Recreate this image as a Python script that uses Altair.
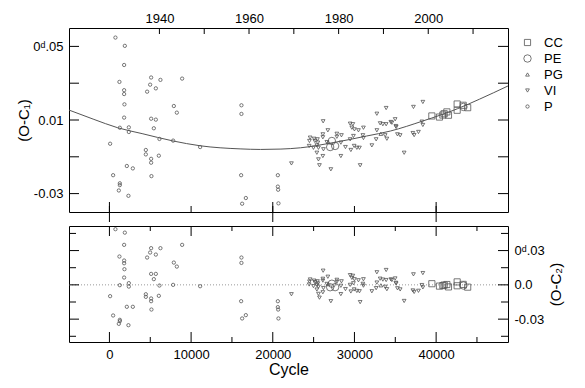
import altair as alt
import pandas as pd

FONT = "Liberation Sans"
GRAY = "#555555"

# ---------------- data ----------------
types = ["CC", "PE", "PG", "VI", "P"]

p_cycle = [735, 1886, 1800, 1225, 5106, 6245, 4984, 5682, 4616, 1800, 1800, 1837, 1800, 5106, 5682,
           1274, 2376, 2376, 5437, 6123, 86, 4457, 4457, 5106, 5106, 6049, 2131, 2865, 453, 5143,
           1274, 1274, 1151, 2327, 8902, 7886, 8253, 7800, 11106, 16163, 16163, 16127, 16702, 16249,
           20621, 20621, 20657, 20694]
p_oc1 = [0.0548, 0.0503, 0.0399, 0.0307, 0.0331, 0.0318, 0.0292, 0.0272, 0.0254, 0.0262, 0.0241,
         0.0185, 0.0113, 0.0107, 0.0102, 0.0058, 0.0060, 0.0035, 0.0055, -0.0003, -0.0029, -0.0063,
         -0.0087, -0.0111, -0.0132, -0.0094, -0.0150, -0.0163, -0.0200, -0.0205, -0.0244, -0.0254,
         -0.0283, -0.0312, 0.0325, 0.0176, 0.0140, -0.0012, -0.0047, 0.0180, 0.0133, -0.0200,
         -0.0324, -0.0355, -0.0200, -0.0262, -0.0279, -0.0353]
p_oc2 = [0.0487, 0.0457, 0.0350, 0.0248, 0.0321, 0.0321, 0.0283, 0.0265, 0.0239, 0.0213, 0.0189,
         0.0137, 0.0064, 0.0096, 0.0096, -0.0003, 0.0015, -0.0015, 0.0050, -0.0006, -0.0099, -0.0082,
         -0.0105, -0.0119, -0.0143, -0.0096, -0.0192, -0.0192, -0.0268, -0.0216, -0.0306, -0.0318,
         -0.0341, -0.0353, 0.0350, 0.0195, 0.0160, 0.0000, -0.0012, 0.0239, 0.0192, -0.0143,
         -0.0265, -0.0294, -0.0143, -0.0195, -0.0216, -0.0294]

vi_cycle = [33882, 32743, 26168, 29474, 29804, 29682, 30000, 30490, 31102, 33147, 33478, 33882, 34457,
            35070, 26743, 26131, 26131, 27845, 27845, 28408, 32743, 29878, 31029, 31102, 32657, 33760,
            33968, 35266, 29474, 24576, 25066, 25470, 24490, 25151, 25519, 26621, 28335, 28898, 29964,
            30294, 30613, 29559, 32131, 24980, 25592, 26204, 25396, 26131, 25592, 28335, 25715, 27110,
            30698, 25396, 37225, 38376, 34580, 34984, 35107, 38254, 38376, 35597, 37151, 37311, 37837,
            36086, 22286, 24454]
vi_oc1 = [0.0165, 0.0134, 0.0093, 0.0080, 0.0077, 0.0058, 0.0049, 0.0044, 0.0058, 0.0082, 0.0077,
          0.0077, 0.0089, 0.0067, 0.0044, 0.0022, 0.0006, 0.0025, 0.0009, 0.0017, 0.0044, 0.0013,
          0.0017, 0.0002, -0.0005, 0.0017, -0.0002, 0.0022, -0.0005, 0.0004, -0.0002, -0.0005,
          -0.0014, -0.0014, -0.0023, -0.0020, -0.0023, -0.0047, -0.0041, -0.0051, -0.0051, -0.0063,
          -0.0038, -0.0051, -0.0051, -0.0059, -0.0078, -0.0096, -0.0114, -0.0096, -0.0146, -0.0168,
          -0.0146, -0.0038, 0.0171, 0.0198, 0.0085, 0.0104, 0.0062, 0.0091, 0.0073, 0.0017, 0.0029,
          0.0018, 0.0035, -0.0078, -0.0136, -0.0041]
vi_oc2 = [0.0130, 0.0110, 0.0124, 0.0085, 0.0079, 0.0061, 0.0049, 0.0040, 0.0049, 0.0054, 0.0046,
          0.0042, 0.0048, 0.0018, 0.0071, 0.0053, 0.0037, 0.0044, 0.0028, 0.0031, 0.0020, 0.0014,
          0.0009, -0.0007, -0.0029, -0.0017, -0.0038, -0.0030, 0.0000, 0.0047, 0.0037, 0.0031,
          0.0029, 0.0024, 0.0013, 0.0008, -0.0008, -0.0037, -0.0040, -0.0053, -0.0056, -0.0058,
          -0.0056, -0.0011, -0.0016, -0.0028, -0.0041, -0.0065, -0.0079, -0.0081, -0.0112, -0.0143,
          -0.0151, -0.0001, 0.0092, 0.0103, 0.0042, 0.0056, 0.0012, -0.0002, -0.0022, -0.0040,
          -0.0049, -0.0062, -0.0052, -0.0141, -0.0082, 0.0003]

cc_cycle = [39478, 40409, 40825, 40984, 41315, 41511, 42576, 42576, 43311, 43862]
cc_oc1 = [0.0122, 0.0116, 0.0127, 0.0134, 0.0144, 0.0126, 0.0187, 0.0153, 0.0180, 0.0167]
cc_oc2 = [0.0010, -0.0011, -0.0006, -0.0002, 0.0003, -0.0018, 0.0026, -0.0008, 0.0004, -0.0020]

pe_cycle = [27233, 27637, 27025, 43347]
pe_oc1 = [-0.0014, -0.0041, -0.0047, 0.0171]
pe_oc2 = [0.0010, -0.0020, -0.0021, -0.0006]

pg_cycle = [33234, 26780]
pg_oc1 = [0.0025, -0.0020]
pg_oc2 = [-0.0004, 0.0007]

curve_cycle = [-4950, -2000, 1000, 4000, 7800, 11100, 16000, 18500, 21000, 23400, 27400, 31500,
               34400, 38400, 42600, 45300, 48800]
curve_oc1 = [0.0154, 0.0105, 0.0058, 0.0026, -0.0014, -0.0040, -0.0057, -0.0060, -0.0058, -0.0051,
             -0.0023, 0.0013, 0.0040, 0.0095, 0.0161, 0.0213, 0.0285]

year_ticks = [1940, 1950, 1960, 1970, 1980, 1990, 2000, 2010]
year_labels = [1940, 1960, 1980, 2000]
cycle_labels = [0, 10000, 20000, 30000, 40000]
cycle_minor = [5000, 15000, 25000, 35000, 45000]
cycle_long = [0, 20000, 40000]
y1_ticks = [-0.03, -0.01, 0.01, 0.03, 0.05]
y1_labels = [-0.03, 0.01, 0.05]
y2_major = [-0.03, 0.0, 0.03]
y2_minor = [-0.045, -0.015, 0.015, 0.045]

# ---------------- tables ----------------
rows = []
for t, cs, o1, o2 in [("CC", cc_cycle, cc_oc1, cc_oc2), ("PE", pe_cycle, pe_oc1, pe_oc2),
                      ("PG", pg_cycle, pg_oc1, pg_oc2), ("VI", vi_cycle, vi_oc1, vi_oc2),
                      ("P", p_cycle, p_oc1, p_oc2)]:
    for c, a, b in zip(cs, o1, o2):
        rows.append({"type": t, "cycle": c, "oc1": a, "oc2": b})
df = pd.DataFrame(rows)
curve_df = pd.DataFrame({"cycle": curve_cycle, "oc1": curve_oc1})

W, H1, H2 = 439, 184, 116
xs = alt.Scale(domain=[-4950, 48800], nice=False, zero=False)
ys1 = alt.Scale(domain=[-0.04, 0.06], nice=False, zero=False)
ys2 = alt.Scale(domain=[-0.05, 0.0515], nice=False, zero=False)
yrs = alt.Scale(domain=[1919.82, 2017.8], nice=False, zero=False)

shape_scale = alt.Scale(type="ordinal", domain=types,
                        range=["square", "circle", "triangle-up", "triangle-down", "circle"])
size_scale = alt.Scale(type="ordinal", domain=types, range=[38, 55, 14, 14, 11])
legend = alt.Legend(title=None, orient="none", legendX=452, legendY=8, labelFont=FONT,
                    labelFontSize=13, labelColor="black", symbolStrokeColor=GRAY,
                    symbolStrokeWidth=0.8, symbolFillColor="transparent", rowPadding=2, labelOffset=10)

# axes (identical spec used in every layer sharing the scale)
ax_y1 = alt.Axis(values=y1_labels, ticks=False, domain=False, grid=False, labelPadding=6,
                 labelExpr="datum.value > 0.04 ? '0ᵈ.05' : (datum.value > 0 ? '0.01' : '-0.03')",
                 title="(O-C₁)", titleFontSize=15, titlePadding=1)
ax_y2 = alt.Axis(orient="right", values=y2_major, ticks=False, domain=False, grid=False, labelPadding=6,
                 labelExpr="datum.value > 0.01 ? '0ᵈ.03' : (datum.value > -0.01 ? '0.0' : '-0.03')",
                 title="(O-C₂)", titleFontSize=15, titlePadding=19, titleAngle=270)
ax_x2 = alt.Axis(values=cycle_labels, format="d", ticks=False, domain=False, grid=False, labelPadding=6,
                 title="Cycle", titleFontSize=16, titlePadding=0)


def rules_y(vals, scale, axis, x0, x1):
    return alt.Chart(pd.DataFrame({"v": vals})).mark_rule(color="black", strokeWidth=1).encode(
        y=alt.Y("v:Q", scale=scale, axis=axis), x=alt.value(x0), x2=alt.value(x1))


def rules_x(vals, axis, y0, y1):
    return alt.Chart(pd.DataFrame({"c": vals})).mark_rule(color="black", strokeWidth=1).encode(
        x=alt.X("c:Q", scale=xs, axis=axis), y=alt.value(y0), y2=alt.value(y1))


# ---------------- top panel ----------------
pts1 = alt.Chart(df).mark_point(filled=False, color=GRAY, strokeWidth=0.8, opacity=1).encode(
    x=alt.X("cycle:Q", scale=xs, axis=None),
    y=alt.Y("oc1:Q", scale=ys1, axis=ax_y1),
    shape=alt.Shape("type:O", scale=shape_scale, legend=legend),
    size=alt.Size("type:O", scale=size_scale, legend=legend),
)
curve = alt.Chart(curve_df).mark_line(color=GRAY, strokeWidth=1, interpolate="monotone").encode(
    x=alt.X("cycle:Q", scale=xs, axis=None), y=alt.Y("oc1:Q", scale=ys1, axis=ax_y1))

inner_top = alt.layer(
    curve, pts1,
    rules_y(y1_ticks, ys1, ax_y1, 0, 10), rules_y(y1_ticks, ys1, ax_y1, W - 10, W),
    rules_x(cycle_labels, None, H1 - 6, H1), rules_x(cycle_long, None, H1 - 10, H1 + 10),
)
years = alt.Chart(pd.DataFrame({"year": year_ticks})).mark_rule(color="black", strokeWidth=1).encode(
    x=alt.X("year:Q", scale=yrs, axis=alt.Axis(
        orient="top", values=year_labels, format="d", ticks=False, domain=False, grid=False,
        labelPadding=3, title=None)),
    y=alt.value(0), y2=alt.value(6))

top = alt.layer(inner_top, years).resolve_scale(x="independent").properties(width=W, height=H1)

# ---------------- bottom panel ----------------
pts2 = alt.Chart(df).mark_point(filled=False, color=GRAY, strokeWidth=0.8, opacity=1).encode(
    x=alt.X("cycle:Q", scale=xs, axis=ax_x2),
    y=alt.Y("oc2:Q", scale=ys2, axis=ax_y2),
    shape=alt.Shape("type:O", scale=shape_scale, legend=legend),
    size=alt.Size("type:O", scale=size_scale, legend=legend),
)
zero = alt.Chart(pd.DataFrame({"z": [0.0]})).mark_rule(color="#999999", strokeDash=[1, 2], strokeWidth=1).encode(
    y=alt.Y("z:Q", scale=ys2, axis=ax_y2))

bottom = alt.layer(
    zero, pts2,
    rules_y(y2_major, ys2, ax_y2, 0, 10), rules_y(y2_minor, ys2, ax_y2, 0, 7),
    rules_y(y2_major, ys2, ax_y2, W - 10, W), rules_y(y2_minor, ys2, ax_y2, W - 7, W),
    rules_x(cycle_labels, ax_x2, 0, 10), rules_x(cycle_minor, ax_x2, 0, 5),
    rules_x(cycle_labels, ax_x2, H2 - 10, H2), rules_x(cycle_minor, ax_x2, H2 - 5, H2),
).properties(width=W, height=H2)

chart = alt.vconcat(top, bottom, spacing=2).properties(
    padding={"left": 8, "top": 3, "right": 5, "bottom": 5}
).configure_view(stroke="black", strokeWidth=1).configure_axis(
    labelFont=FONT, titleFont=FONT, labelColor="black", titleColor="black",
    titleFontWeight="normal", labelFontSize=13
)

chart.save("out.html", embed_options={"renderer": "svg", "actions": False})
